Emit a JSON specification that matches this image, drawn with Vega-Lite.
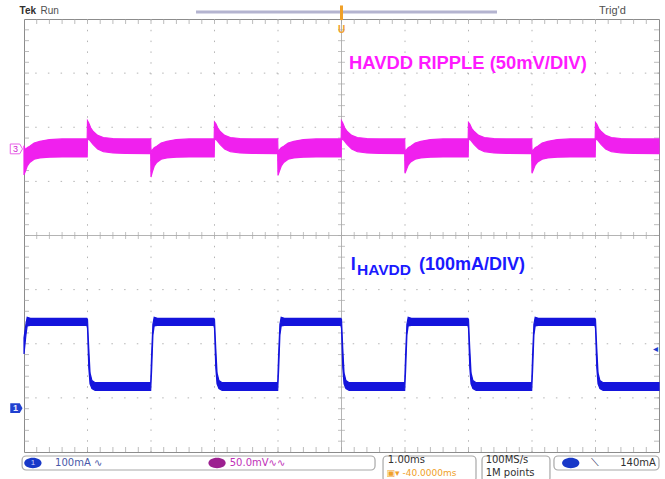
{
  "$schema": "https://vega.github.io/schema/vega-lite/v6.json",
  "width": 635,
  "height": 433,
  "autosize": "none",
  "padding": {"left": 24, "top": 19, "right": 6, "bottom": 27},
  "background": "white",
  "config": {
    "view": {"stroke": "#8c8c8c", "strokeWidth": 1},
    "axis": {"disable": true},
    "text": {"font": "Liberation Sans"}
  },
  "datasets": {
    "ripple": [
      {"t": 0, "hi": 3, "lo": -24},
      {"t": 0.02, "hi": -1, "lo": -21},
      {"t": 0.05, "hi": 1, "lo": -16},
      {"t": 0.09, "hi": 2.5, "lo": -12.5},
      {"t": 0.16, "hi": 5.5, "lo": -9.5},
      {"t": 0.25, "hi": 7, "lo": -8.3},
      {"t": 0.4, "hi": 8.6, "lo": -7.6},
      {"t": 0.6, "hi": 9.2, "lo": -7.4},
      {"t": 0.995, "hi": 9.2, "lo": -7.4},
      {"t": 1.0, "hi": 26, "lo": 8},
      {"t": 1.02, "hi": 24, "lo": 9},
      {"t": 1.05, "hi": 19.5, "lo": 7},
      {"t": 1.09, "hi": 16, "lo": 4},
      {"t": 1.16, "hi": 12.5, "lo": 0},
      {"t": 1.25, "hi": 10.5, "lo": -2.5},
      {"t": 1.4, "hi": 9.6, "lo": -3.8},
      {"t": 1.6, "hi": 9.2, "lo": -4.2},
      {"t": 1.995, "hi": 9.2, "lo": -4.3},
      {"t": 2.0, "hi": -3.5, "lo": -26},
      {"t": 2.02, "hi": -1, "lo": -21.5},
      {"t": 2.05, "hi": 1, "lo": -16},
      {"t": 2.09, "hi": 2.5, "lo": -12.5},
      {"t": 2.16, "hi": 5.5, "lo": -9.5},
      {"t": 2.25, "hi": 7, "lo": -8.3},
      {"t": 2.4, "hi": 8.6, "lo": -7.6},
      {"t": 2.6, "hi": 9.2, "lo": -7.4},
      {"t": 2.995, "hi": 9.2, "lo": -7.4},
      {"t": 3.0, "hi": 25, "lo": 8},
      {"t": 3.02, "hi": 23.5, "lo": 9},
      {"t": 3.05, "hi": 19.5, "lo": 7},
      {"t": 3.09, "hi": 16, "lo": 4},
      {"t": 3.16, "hi": 12.5, "lo": 0},
      {"t": 3.25, "hi": 10.5, "lo": -2.5},
      {"t": 3.4, "hi": 9.6, "lo": -3.8},
      {"t": 3.6, "hi": 9.2, "lo": -4.2},
      {"t": 3.995, "hi": 9.2, "lo": -4.3},
      {"t": 4.0, "hi": -3.5, "lo": -24.5},
      {"t": 4.02, "hi": -1, "lo": -21},
      {"t": 4.05, "hi": 1, "lo": -16},
      {"t": 4.09, "hi": 2.5, "lo": -12.5},
      {"t": 4.16, "hi": 5.5, "lo": -9.5},
      {"t": 4.25, "hi": 7, "lo": -8.3},
      {"t": 4.4, "hi": 8.6, "lo": -7.6},
      {"t": 4.6, "hi": 9.2, "lo": -7.4},
      {"t": 4.995, "hi": 9.2, "lo": -7.4},
      {"t": 5.0, "hi": 26, "lo": 8},
      {"t": 5.02, "hi": 24, "lo": 9},
      {"t": 5.05, "hi": 19.5, "lo": 7},
      {"t": 5.09, "hi": 16, "lo": 4},
      {"t": 5.16, "hi": 12.5, "lo": 0},
      {"t": 5.25, "hi": 10.5, "lo": -2.5},
      {"t": 5.4, "hi": 9.6, "lo": -3.8},
      {"t": 5.6, "hi": 9.2, "lo": -4.2},
      {"t": 5.995, "hi": 9.2, "lo": -4.3},
      {"t": 6.0, "hi": -3.5, "lo": -22.5},
      {"t": 6.02, "hi": -1, "lo": -19.5},
      {"t": 6.05, "hi": 1, "lo": -15},
      {"t": 6.09, "hi": 2.5, "lo": -12},
      {"t": 6.16, "hi": 5.5, "lo": -9.5},
      {"t": 6.25, "hi": 7, "lo": -8.3},
      {"t": 6.4, "hi": 8.6, "lo": -7.6},
      {"t": 6.6, "hi": 9.2, "lo": -7.4},
      {"t": 6.995, "hi": 9.2, "lo": -7.4},
      {"t": 7.0, "hi": 24.5, "lo": 8},
      {"t": 7.02, "hi": 23, "lo": 9},
      {"t": 7.05, "hi": 19, "lo": 7},
      {"t": 7.09, "hi": 16, "lo": 4},
      {"t": 7.16, "hi": 12.5, "lo": 0},
      {"t": 7.25, "hi": 10.5, "lo": -2.5},
      {"t": 7.4, "hi": 9.6, "lo": -3.8},
      {"t": 7.6, "hi": 9.2, "lo": -4.2},
      {"t": 7.995, "hi": 9.2, "lo": -4.3},
      {"t": 8.0, "hi": -3.5, "lo": -22.5},
      {"t": 8.02, "hi": -1, "lo": -19.5},
      {"t": 8.05, "hi": 1, "lo": -15},
      {"t": 8.09, "hi": 2.5, "lo": -12},
      {"t": 8.16, "hi": 5.5, "lo": -9.5},
      {"t": 8.25, "hi": 7, "lo": -8.3},
      {"t": 8.4, "hi": 8.6, "lo": -7.6},
      {"t": 8.6, "hi": 9.2, "lo": -7.4},
      {"t": 8.995, "hi": 9.2, "lo": -7.4},
      {"t": 9.0, "hi": 24.5, "lo": 8},
      {"t": 9.02, "hi": 23, "lo": 9},
      {"t": 9.05, "hi": 19, "lo": 7},
      {"t": 9.09, "hi": 16, "lo": 4},
      {"t": 9.16, "hi": 12.5, "lo": 0},
      {"t": 9.25, "hi": 10.5, "lo": -2.5},
      {"t": 9.4, "hi": 9.6, "lo": -3.8},
      {"t": 9.6, "hi": 9.2, "lo": -4.2},
      {"t": 10.0, "hi": 9.2, "lo": -4.3}
    ],
    "current": [
      {"t": 0, "hi": 130, "lo": 100},
      {"t": 0.03, "hi": 155, "lo": 135},
      {"t": 0.05, "hi": 168, "lo": 152},
      {"t": 0.1, "hi": 166, "lo": 153},
      {"t": 0.99, "hi": 166, "lo": 153},
      {"t": 1.0, "hi": 164, "lo": 148},
      {"t": 1.02, "hi": 110, "lo": 75},
      {"t": 1.04, "hi": 65, "lo": 45},
      {"t": 1.07, "hi": 51, "lo": 36},
      {"t": 1.12, "hi": 47, "lo": 33},
      {"t": 1.995, "hi": 47, "lo": 33},
      {"t": 2.01, "hi": 100, "lo": 70},
      {"t": 2.03, "hi": 155, "lo": 135},
      {"t": 2.05, "hi": 168, "lo": 152},
      {"t": 2.1, "hi": 166, "lo": 153},
      {"t": 2.99, "hi": 166, "lo": 153},
      {"t": 3.0, "hi": 164, "lo": 148},
      {"t": 3.02, "hi": 110, "lo": 75},
      {"t": 3.04, "hi": 65, "lo": 45},
      {"t": 3.07, "hi": 51, "lo": 36},
      {"t": 3.12, "hi": 47, "lo": 33},
      {"t": 3.995, "hi": 47, "lo": 33},
      {"t": 4.01, "hi": 100, "lo": 70},
      {"t": 4.03, "hi": 155, "lo": 135},
      {"t": 4.05, "hi": 168, "lo": 152},
      {"t": 4.1, "hi": 166, "lo": 153},
      {"t": 4.99, "hi": 166, "lo": 153},
      {"t": 5.0, "hi": 164, "lo": 148},
      {"t": 5.02, "hi": 110, "lo": 75},
      {"t": 5.04, "hi": 65, "lo": 45},
      {"t": 5.07, "hi": 51, "lo": 36},
      {"t": 5.12, "hi": 47, "lo": 33},
      {"t": 5.995, "hi": 47, "lo": 33},
      {"t": 6.01, "hi": 100, "lo": 70},
      {"t": 6.03, "hi": 155, "lo": 135},
      {"t": 6.05, "hi": 168, "lo": 152},
      {"t": 6.1, "hi": 166, "lo": 153},
      {"t": 6.99, "hi": 166, "lo": 153},
      {"t": 7.0, "hi": 164, "lo": 148},
      {"t": 7.02, "hi": 110, "lo": 75},
      {"t": 7.04, "hi": 65, "lo": 45},
      {"t": 7.07, "hi": 51, "lo": 36},
      {"t": 7.12, "hi": 47, "lo": 33},
      {"t": 7.995, "hi": 47, "lo": 33},
      {"t": 8.01, "hi": 100, "lo": 70},
      {"t": 8.03, "hi": 155, "lo": 135},
      {"t": 8.05, "hi": 168, "lo": 152},
      {"t": 8.1, "hi": 166, "lo": 153},
      {"t": 8.99, "hi": 166, "lo": 153},
      {"t": 9.0, "hi": 164, "lo": 148},
      {"t": 9.02, "hi": 110, "lo": 75},
      {"t": 9.04, "hi": 65, "lo": 45},
      {"t": 9.07, "hi": 51, "lo": 36},
      {"t": 9.12, "hi": 47, "lo": 33},
      {"t": 10.0, "hi": 47, "lo": 33}
    ],
    "majorX": [{"t": 1}, {"t": 2}, {"t": 3}, {"t": 4}, {"t": 6}, {"t": 7}, {"t": 8}, {"t": 9}],
    "majorY": [{"d": -3}, {"d": -2}, {"d": -1}, {"d": 1}, {"d": 2}, {"d": 3}],
    "minorX": [
      {"t": 0.2}, {"t": 0.4}, {"t": 0.6}, {"t": 0.8}, {"t": 1.0}, {"t": 1.2}, {"t": 1.4}, {"t": 1.6}, {"t": 1.8}, {"t": 2.0},
      {"t": 2.2}, {"t": 2.4}, {"t": 2.6}, {"t": 2.8}, {"t": 3.0}, {"t": 3.2}, {"t": 3.4}, {"t": 3.6}, {"t": 3.8}, {"t": 4.0},
      {"t": 4.2}, {"t": 4.4}, {"t": 4.6}, {"t": 4.8}, {"t": 5.0}, {"t": 5.2}, {"t": 5.4}, {"t": 5.6}, {"t": 5.8}, {"t": 6.0},
      {"t": 6.2}, {"t": 6.4}, {"t": 6.6}, {"t": 6.8}, {"t": 7.0}, {"t": 7.2}, {"t": 7.4}, {"t": 7.6}, {"t": 7.8}, {"t": 8.0},
      {"t": 8.2}, {"t": 8.4}, {"t": 8.6}, {"t": 8.8}, {"t": 9.0}, {"t": 9.2}, {"t": 9.4}, {"t": 9.6}, {"t": 9.8}
    ],
    "minorY": [
      {"d": -3.8}, {"d": -3.6}, {"d": -3.4}, {"d": -3.2}, {"d": -3.0}, {"d": -2.8}, {"d": -2.6}, {"d": -2.4}, {"d": -2.2}, {"d": -2.0},
      {"d": -1.8}, {"d": -1.6}, {"d": -1.4}, {"d": -1.2}, {"d": -1.0}, {"d": -0.8}, {"d": -0.6}, {"d": -0.4}, {"d": -0.2}, {"d": 0},
      {"d": 0.2}, {"d": 0.4}, {"d": 0.6}, {"d": 0.8}, {"d": 1.0}, {"d": 1.2}, {"d": 1.4}, {"d": 1.6}, {"d": 1.8}, {"d": 2.0},
      {"d": 2.2}, {"d": 2.4}, {"d": 2.6}, {"d": 2.8}, {"d": 3.0}, {"d": 3.2}, {"d": 3.4}, {"d": 3.6}, {"d": 3.8}
    ]
  },
  "resolve": {"scale": {"y": "independent"}},
  "layer": [
    {
      "data": {"name": "majorX"},
      "mark": {"type": "rule", "color": "#b4b4b4", "strokeWidth": 1, "strokeDash": [1.5, 9.3]},
      "encoding": {"x": {"field": "t", "type": "quantitative", "scale": {"domain": [0, 10], "nice": false, "zero": false}}}
    },
    {
      "data": {"name": "majorY"},
      "mark": {"type": "rule", "color": "#b4b4b4", "strokeWidth": 1, "strokeDash": [1.5, 11.2]},
      "encoding": {"y": {"field": "d", "type": "quantitative", "scale": {"domain": [-4, 4], "nice": false, "zero": false}}}
    },
    {
      "data": {"values": [{}]},
      "mark": {"type": "rule", "color": "#b4b4b4", "strokeWidth": 1},
      "encoding": {"x": {"datum": 5, "type": "quantitative", "scale": {"domain": [0, 10], "nice": false, "zero": false}}}
    },
    {
      "data": {"values": [{}]},
      "mark": {"type": "rule", "color": "#b4b4b4", "strokeWidth": 1},
      "encoding": {"y": {"datum": 0, "type": "quantitative", "scale": {"domain": [-4, 4], "nice": false, "zero": false}}}
    },
    {
      "data": {"name": "minorX"},
      "mark": {"type": "tick", "orient": "vertical", "color": "#a8a8a8", "size": 7, "thickness": 1},
      "encoding": {
        "x": {"field": "t", "type": "quantitative", "scale": {"domain": [0, 10], "nice": false, "zero": false}},
        "y": {"datum": 0, "type": "quantitative", "scale": {"domain": [-4, 4], "nice": false, "zero": false}}
      }
    },
    {
      "data": {"name": "minorX"},
      "mark": {"type": "tick", "orient": "vertical", "color": "#a0a0a0", "size": 5, "thickness": 1, "yOffset": 2.5},
      "encoding": {
        "x": {"field": "t", "type": "quantitative", "scale": {"domain": [0, 10], "nice": false, "zero": false}},
        "y": {"datum": 4, "type": "quantitative", "scale": {"domain": [-4, 4], "nice": false, "zero": false}}
      }
    },
    {
      "data": {"name": "minorX"},
      "mark": {"type": "tick", "orient": "vertical", "color": "#a0a0a0", "size": 5, "thickness": 1, "yOffset": -2.5},
      "encoding": {
        "x": {"field": "t", "type": "quantitative", "scale": {"domain": [0, 10], "nice": false, "zero": false}},
        "y": {"datum": -4, "type": "quantitative", "scale": {"domain": [-4, 4], "nice": false, "zero": false}}
      }
    },
    {
      "data": {"name": "minorY"},
      "mark": {"type": "tick", "orient": "horizontal", "color": "#a8a8a8", "size": 7, "thickness": 1},
      "encoding": {
        "y": {"field": "d", "type": "quantitative", "scale": {"domain": [-4, 4], "nice": false, "zero": false}},
        "x": {"datum": 5, "type": "quantitative", "scale": {"domain": [0, 10], "nice": false, "zero": false}}
      }
    },
    {
      "data": {"name": "minorY"},
      "mark": {"type": "tick", "orient": "horizontal", "color": "#a0a0a0", "size": 5, "thickness": 1, "xOffset": 2.5},
      "encoding": {
        "y": {"field": "d", "type": "quantitative", "scale": {"domain": [-4, 4], "nice": false, "zero": false}},
        "x": {"datum": 0, "type": "quantitative", "scale": {"domain": [0, 10], "nice": false, "zero": false}}
      }
    },
    {
      "data": {"name": "minorY"},
      "mark": {"type": "tick", "orient": "horizontal", "color": "#a0a0a0", "size": 5, "thickness": 1, "xOffset": -2.5},
      "encoding": {
        "y": {"field": "d", "type": "quantitative", "scale": {"domain": [-4, 4], "nice": false, "zero": false}},
        "x": {"datum": 10, "type": "quantitative", "scale": {"domain": [0, 10], "nice": false, "zero": false}}
      }
    },
    {
      "data": {"name": "ripple"},
      "mark": {"type": "area", "color": "#f020ee", "stroke": "#f020ee", "strokeWidth": 1.2, "opacity": 1},
      "encoding": {
        "x": {"field": "t", "type": "quantitative", "scale": {"domain": [0, 10], "nice": false, "zero": false}},
        "y": {"field": "hi", "type": "quantitative", "scale": {"domain": [-280, 120], "nice": false, "zero": false}},
        "y2": {"field": "lo"}
      }
    },
    {
      "data": {"name": "current"},
      "mark": {"type": "area", "color": "#1414dc", "stroke": "#1414dc", "strokeWidth": 1.2, "opacity": 1},
      "encoding": {
        "x": {"field": "t", "type": "quantitative", "scale": {"domain": [0, 10], "nice": false, "zero": false}},
        "y": {"field": "hi", "type": "quantitative", "scale": {"domain": [-81, 719], "nice": false, "zero": false}},
        "y2": {"field": "lo"}
      }
    },
    {
      "data": {"values": [{}]},
      "mark": {"type": "point", "shape": "M-1,-0.8 L0.55,-0.8 L1,0 L0.55,0.8 L-1,0.8 Z", "size": 150, "filled": false, "stroke": "#e020e0", "strokeWidth": 1},
      "encoding": {
        "x": {"datum": -0.12, "type": "quantitative", "scale": {"domain": [0, 10], "nice": false, "zero": false}},
        "y": {"datum": 0, "type": "quantitative", "scale": {"domain": [-280, 120], "nice": false, "zero": false}}
      }
    },
    {
      "data": {"values": [{}]},
      "mark": {"type": "text", "text": "3", "fontSize": 9, "color": "#d020d0", "align": "center", "baseline": "middle", "dx": -1},
      "encoding": {
        "x": {"datum": -0.12, "type": "quantitative", "scale": {"domain": [0, 10], "nice": false, "zero": false}},
        "y": {"datum": 0, "type": "quantitative", "scale": {"domain": [-280, 120], "nice": false, "zero": false}}
      }
    },
    {
      "data": {"values": [{}]},
      "mark": {"type": "point", "shape": "M-1,-0.8 L0.55,-0.8 L1,0 L0.55,0.8 L-1,0.8 Z", "size": 150, "filled": true, "color": "#2040d0", "opacity": 1},
      "encoding": {
        "x": {"datum": -0.12, "type": "quantitative", "scale": {"domain": [0, 10], "nice": false, "zero": false}},
        "y": {"datum": 0, "type": "quantitative", "scale": {"domain": [-81, 719], "nice": false, "zero": false}}
      }
    },
    {
      "data": {"values": [{}]},
      "mark": {"type": "text", "text": "1", "fontSize": 9, "fontWeight": "bold", "color": "#e8ecff", "align": "center", "baseline": "middle", "dx": -1},
      "encoding": {
        "x": {"datum": -0.12, "type": "quantitative", "scale": {"domain": [0, 10], "nice": false, "zero": false}},
        "y": {"datum": 0, "type": "quantitative", "scale": {"domain": [-81, 719], "nice": false, "zero": false}}
      }
    },
    {
      "data": {"values": [{}]},
      "mark": {"type": "text", "text": "◂", "fontSize": 10, "color": "#2040d0", "align": "center", "baseline": "middle"},
      "encoding": {
        "x": {"datum": 9.94, "type": "quantitative", "scale": {"domain": [0, 10], "nice": false, "zero": false}},
        "y": {"datum": 109, "type": "quantitative", "scale": {"domain": [-81, 719], "nice": false, "zero": false}}
      }
    },
    {
      "data": {"values": [{}]},
      "mark": {"type": "text", "text": "HAVDD RIPPLE (50mV/DIV)", "fontSize": 18.4, "fontWeight": "bold", "color": "#ff1aff", "align": "left", "baseline": "alphabetic"},
      "encoding": {
        "x": {"datum": 5.118, "type": "quantitative", "scale": {"domain": [0, 10], "nice": false, "zero": false}},
        "y": {"datum": 3.085, "type": "quantitative", "scale": {"domain": [-4, 4], "nice": false, "zero": false}}
      }
    },
    {
      "data": {"values": [{}]},
      "mark": {"type": "text", "text": "I", "fontSize": 18, "fontWeight": "bold", "color": "#1a1aff", "align": "left", "baseline": "alphabetic"},
      "encoding": {
        "x": {"datum": 5.145, "type": "quantitative", "scale": {"domain": [0, 10], "nice": false, "zero": false}},
        "y": {"datum": -0.637, "type": "quantitative", "scale": {"domain": [-4, 4], "nice": false, "zero": false}}
      }
    },
    {
      "data": {"values": [{}]},
      "mark": {"type": "text", "text": "HAVDD", "fontSize": 15.5, "fontWeight": "bold", "color": "#1a1aff", "align": "left", "baseline": "alphabetic"},
      "encoding": {
        "x": {"datum": 5.244, "type": "quantitative", "scale": {"domain": [0, 10], "nice": false, "zero": false}},
        "y": {"datum": -0.73, "type": "quantitative", "scale": {"domain": [-4, 4], "nice": false, "zero": false}}
      }
    },
    {
      "data": {"values": [{}]},
      "mark": {"type": "text", "text": "(100mA/DIV)", "fontSize": 18, "fontWeight": "bold", "color": "#1a1aff", "align": "left", "baseline": "alphabetic"},
      "encoding": {
        "x": {"datum": 6.22, "type": "quantitative", "scale": {"domain": [0, 10], "nice": false, "zero": false}},
        "y": {"datum": -0.637, "type": "quantitative", "scale": {"domain": [-4, 4], "nice": false, "zero": false}}
      }
    },
    {
      "data": {"values": [{}]},
      "mark": {"type": "rule", "color": "#b4b4d0", "strokeWidth": 3},
      "encoding": {
        "x": {"datum": 2.709, "type": "quantitative", "scale": {"domain": [0, 10], "nice": false, "zero": false}},
        "x2": {"datum": 7.449},
        "y": {"datum": 4.13, "type": "quantitative", "scale": {"domain": [-4, 4], "nice": false, "zero": false}}
      }
    },
    {
      "data": {"values": [{}]},
      "mark": {"type": "rule", "color": "#f0a028", "strokeWidth": 3},
      "encoding": {
        "x": {"datum": 5.0, "type": "quantitative", "scale": {"domain": [0, 10], "nice": false, "zero": false}},
        "y": {"datum": 4.25, "type": "quantitative", "scale": {"domain": [-4, 4], "nice": false, "zero": false}},
        "y2": {"datum": 3.98}
      }
    },
    {
      "data": {"values": [{}]},
      "mark": {"type": "text", "text": "U", "fontSize": 10, "fontWeight": "bold", "color": "#f0a028", "align": "center", "baseline": "middle"},
      "encoding": {
        "x": {"datum": 5.0, "type": "quantitative", "scale": {"domain": [0, 10], "nice": false, "zero": false}},
        "y": {"datum": 3.8, "type": "quantitative", "scale": {"domain": [-4, 4], "nice": false, "zero": false}}
      }
    },
    {
      "data": {"values": [{}]},
      "mark": {"type": "text", "text": "Tek", "fontSize": 10, "fontWeight": "bold", "color": "#303030", "align": "left", "baseline": "middle"},
      "encoding": {
        "x": {"datum": -0.07, "type": "quantitative", "scale": {"domain": [0, 10], "nice": false, "zero": false}},
        "y": {"datum": 4.148, "type": "quantitative", "scale": {"domain": [-4, 4], "nice": false, "zero": false}}
      }
    },
    {
      "data": {"values": [{}]},
      "mark": {"type": "text", "text": "Run", "fontSize": 10, "color": "#505050", "align": "left", "baseline": "middle"},
      "encoding": {
        "x": {"datum": 0.26, "type": "quantitative", "scale": {"domain": [0, 10], "nice": false, "zero": false}},
        "y": {"datum": 4.148, "type": "quantitative", "scale": {"domain": [-4, 4], "nice": false, "zero": false}}
      }
    },
    {
      "data": {"values": [{}]},
      "mark": {"type": "text", "text": "Trig'd", "fontSize": 11, "color": "#505050", "align": "left", "baseline": "middle"},
      "encoding": {
        "x": {"datum": 9.055, "type": "quantitative", "scale": {"domain": [0, 10], "nice": false, "zero": false}},
        "y": {"datum": 4.148, "type": "quantitative", "scale": {"domain": [-4, 4], "nice": false, "zero": false}}
      }
    },
    {
      "data": {"values": [{}]},
      "mark": {"type": "rect", "fill": null, "stroke": "#a8a8a8", "strokeWidth": 1.2, "cornerRadius": 4},
      "encoding": {
        "x": {"datum": -0.03, "type": "quantitative", "scale": {"domain": [0, 10], "nice": false, "zero": false}},
        "x2": {"datum": 5.528},
        "y": {"datum": -4.074, "type": "quantitative", "scale": {"domain": [-4, 4], "nice": false, "zero": false}},
        "y2": {"datum": -4.333}
      }
    },
    {
      "data": {"values": [{}]},
      "mark": {"type": "rect", "fill": null, "stroke": "#a8a8a8", "strokeWidth": 1.2, "cornerRadius": 4},
      "encoding": {
        "x": {"datum": 5.654, "type": "quantitative", "scale": {"domain": [0, 10], "nice": false, "zero": false}},
        "x2": {"datum": 7.118},
        "y": {"datum": -4.074, "type": "quantitative", "scale": {"domain": [-4, 4], "nice": false, "zero": false}},
        "y2": {"datum": -4.55}
      }
    },
    {
      "data": {"values": [{}]},
      "mark": {"type": "rect", "fill": null, "stroke": "#a8a8a8", "strokeWidth": 1.2, "cornerRadius": 4},
      "encoding": {
        "x": {"datum": 7.213, "type": "quantitative", "scale": {"domain": [0, 10], "nice": false, "zero": false}},
        "x2": {"datum": 8.283},
        "y": {"datum": -4.074, "type": "quantitative", "scale": {"domain": [-4, 4], "nice": false, "zero": false}},
        "y2": {"datum": -4.55}
      }
    },
    {
      "data": {"values": [{}]},
      "mark": {"type": "rect", "fill": null, "stroke": "#a8a8a8", "strokeWidth": 1.2, "cornerRadius": 4},
      "encoding": {
        "x": {"datum": 8.346, "type": "quantitative", "scale": {"domain": [0, 10], "nice": false, "zero": false}},
        "x2": {"datum": 10.0},
        "y": {"datum": -4.074, "type": "quantitative", "scale": {"domain": [-4, 4], "nice": false, "zero": false}},
        "y2": {"datum": -4.333}
      }
    },
    {
      "data": {"values": [{}]},
      "mark": {"type": "point", "shape": "M-1,0 A1,0.6 0 1,0 1,0 A1,0.6 0 1,0 -1,0 Z", "size": 300, "filled": true, "color": "#1838c8", "opacity": 1},
      "encoding": {
        "x": {"datum": 0.14, "type": "quantitative", "scale": {"domain": [0, 10], "nice": false, "zero": false}},
        "y": {"datum": -4.203, "type": "quantitative", "scale": {"domain": [-4, 4], "nice": false, "zero": false}}
      }
    },
    {
      "data": {"values": [{}]},
      "mark": {"type": "text", "text": "1", "fontSize": 8, "color": "#c8d0ff", "align": "center", "baseline": "middle"},
      "encoding": {
        "x": {"datum": 0.14, "type": "quantitative", "scale": {"domain": [0, 10], "nice": false, "zero": false}},
        "y": {"datum": -4.203, "type": "quantitative", "scale": {"domain": [-4, 4], "nice": false, "zero": false}}
      }
    },
    {
      "data": {"values": [{}]},
      "mark": {"type": "text", "text": "100mA   ∿", "fontSize": 10, "font": "DejaVu Sans", "color": "#4858a8", "align": "left", "baseline": "middle"},
      "encoding": {
        "x": {"datum": 0.49, "type": "quantitative", "scale": {"domain": [0, 10], "nice": false, "zero": false}},
        "y": {"datum": -4.203, "type": "quantitative", "scale": {"domain": [-4, 4], "nice": false, "zero": false}}
      }
    },
    {
      "data": {"values": [{}]},
      "mark": {"type": "point", "shape": "M-1,0 A1,0.6 0 1,0 1,0 A1,0.6 0 1,0 -1,0 Z", "size": 300, "filled": true, "color": "#9c2090", "opacity": 1},
      "encoding": {
        "x": {"datum": 3.04, "type": "quantitative", "scale": {"domain": [0, 10], "nice": false, "zero": false}},
        "y": {"datum": -4.203, "type": "quantitative", "scale": {"domain": [-4, 4], "nice": false, "zero": false}}
      }
    },
    {
      "data": {"values": [{}]},
      "mark": {"type": "text", "text": "50.0mV∿∿", "fontSize": 10, "font": "DejaVu Sans", "color": "#c030b8", "align": "left", "baseline": "middle"},
      "encoding": {
        "x": {"datum": 3.24, "type": "quantitative", "scale": {"domain": [0, 10], "nice": false, "zero": false}},
        "y": {"datum": -4.203, "type": "quantitative", "scale": {"domain": [-4, 4], "nice": false, "zero": false}}
      }
    },
    {
      "data": {"values": [{}]},
      "mark": {"type": "text", "text": "1.00ms", "fontSize": 10, "font": "DejaVu Sans", "color": "#303030", "align": "left", "baseline": "middle"},
      "encoding": {
        "x": {"datum": 5.73, "type": "quantitative", "scale": {"domain": [0, 10], "nice": false, "zero": false}},
        "y": {"datum": -4.148, "type": "quantitative", "scale": {"domain": [-4, 4], "nice": false, "zero": false}}
      }
    },
    {
      "data": {"values": [{}]},
      "mark": {"type": "text", "text": "▣▾ -40.0000ms", "fontSize": 9, "font": "DejaVu Sans", "color": "#f0a028", "align": "left", "baseline": "middle"},
      "encoding": {
        "x": {"datum": 5.71, "type": "quantitative", "scale": {"domain": [0, 10], "nice": false, "zero": false}},
        "y": {"datum": -4.39, "type": "quantitative", "scale": {"domain": [-4, 4], "nice": false, "zero": false}}
      }
    },
    {
      "data": {"values": [{}]},
      "mark": {"type": "text", "text": "100MS/s", "fontSize": 10, "font": "DejaVu Sans", "color": "#303030", "align": "left", "baseline": "middle"},
      "encoding": {
        "x": {"datum": 7.27, "type": "quantitative", "scale": {"domain": [0, 10], "nice": false, "zero": false}},
        "y": {"datum": -4.148, "type": "quantitative", "scale": {"domain": [-4, 4], "nice": false, "zero": false}}
      }
    },
    {
      "data": {"values": [{}]},
      "mark": {"type": "text", "text": "1M points", "fontSize": 10, "font": "DejaVu Sans", "color": "#303030", "align": "left", "baseline": "middle"},
      "encoding": {
        "x": {"datum": 7.27, "type": "quantitative", "scale": {"domain": [0, 10], "nice": false, "zero": false}},
        "y": {"datum": -4.39, "type": "quantitative", "scale": {"domain": [-4, 4], "nice": false, "zero": false}}
      }
    },
    {
      "data": {"values": [{}]},
      "mark": {"type": "point", "shape": "M-1,0 A1,0.6 0 1,0 1,0 A1,0.6 0 1,0 -1,0 Z", "size": 300, "filled": true, "color": "#1838c8", "opacity": 1},
      "encoding": {
        "x": {"datum": 8.61, "type": "quantitative", "scale": {"domain": [0, 10], "nice": false, "zero": false}},
        "y": {"datum": -4.203, "type": "quantitative", "scale": {"domain": [-4, 4], "nice": false, "zero": false}}
      }
    },
    {
      "data": {"values": [{}]},
      "mark": {"type": "text", "text": "⟍", "fontSize": 11, "font": "DejaVu Sans", "color": "#303060", "align": "center", "baseline": "middle"},
      "encoding": {
        "x": {"datum": 8.99, "type": "quantitative", "scale": {"domain": [0, 10], "nice": false, "zero": false}},
        "y": {"datum": -4.203, "type": "quantitative", "scale": {"domain": [-4, 4], "nice": false, "zero": false}}
      }
    },
    {
      "data": {"values": [{}]},
      "mark": {"type": "text", "text": "140mA", "fontSize": 10, "font": "DejaVu Sans", "color": "#303030", "align": "right", "baseline": "middle"},
      "encoding": {
        "x": {"datum": 9.95, "type": "quantitative", "scale": {"domain": [0, 10], "nice": false, "zero": false}},
        "y": {"datum": -4.203, "type": "quantitative", "scale": {"domain": [-4, 4], "nice": false, "zero": false}}
      }
    }
  ]
}
